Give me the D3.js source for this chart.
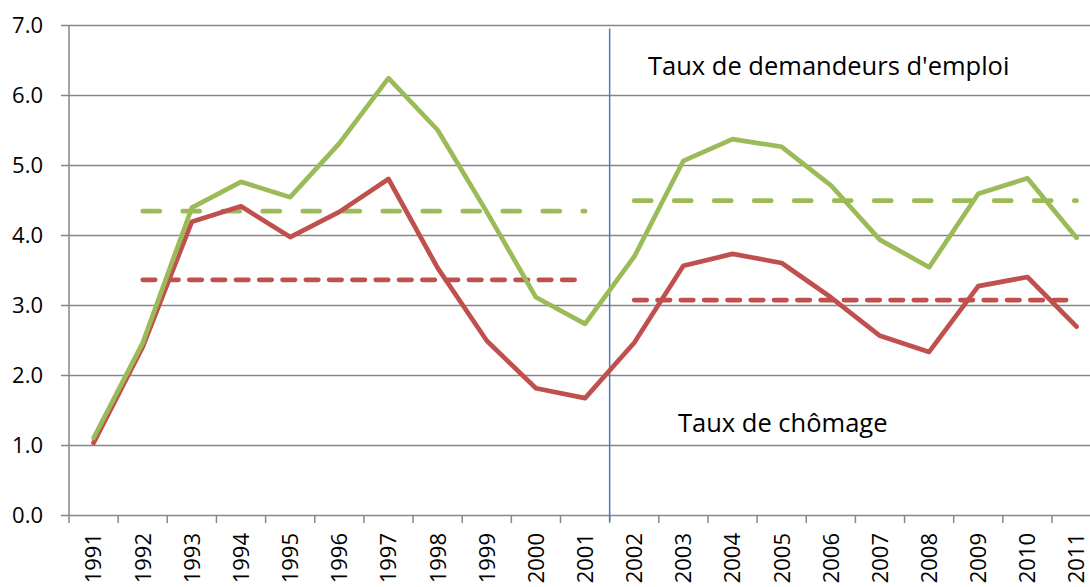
<!DOCTYPE html>
<html>
<head>
<meta charset="utf-8">
<script src="https://cdn.jsdelivr.net/npm/d3@7"></script>
<style>
  body { margin: 0; background: #fff; }
  svg { display: block; font-family: "Open Sans", sans-serif; }
</style>
</head>
<body>
<svg width="1090" height="587"></svg>
<script>
const years = ["1991","1992","1993","1994","1995","1996","1997","1998","1999","2000",
  "2001","2002","2003","2004","2005","2006","2007","2008","2009","2010","2011"];

// taux de demandeurs d'emploi (green)
const demandeurs = [1.10, 2.46, 4.39, 4.76, 4.54, 5.31, 6.24, 5.50, 4.33, 3.11,
  2.73, 3.69, 5.06, 5.37, 5.26, 4.71, 3.93, 3.54, 4.59, 4.81, 3.96];
// taux de chomage (red)
const chomage = [1.03, 2.40, 4.19, 4.41, 3.97, 4.33, 4.80, 3.53, 2.49, 1.81,
  1.67, 2.46, 3.56, 3.73, 3.60, 3.11, 2.56, 2.33, 3.27, 3.40, 2.69];

// period averages (dashed lines)
const periods = [["1992", "2001"], ["2002", "2011"]];
const demandeursAvg = [4.34, 4.49];
const chomageAvg = [3.36, 3.07];

const yTicks = [0, 1, 2, 3, 4, 5, 6, 7];
const splitYear = "2002";

const green = "#9bbb59";
const red = "#c0504d";

const svg = d3.select("svg");
const mLeft = 69, mTop = 25, mBottom = 515;
const band = 49.15;

const x = d3.scaleBand().domain(years).range([mLeft, mLeft + band * years.length]);
const y = d3.scaleLinear().domain([0, 7]).range([mBottom, mTop]);
const cx = d => x(d) + x.bandwidth() / 2;

// gridlines + y labels
svg.append("g")
  .attr("transform", `translate(${mLeft},0)`)
  .call(d3.axisLeft(y).tickValues(yTicks).tickSize(8).tickFormat(d3.format(".1f")))
  .call(g => g.select(".domain").remove())
  .call(g => g.selectAll(".tick line").clone()
      .attr("x1", 0).attr("x2", 1100))
  .call(g => g.selectAll(".tick line").attr("stroke", "#868686").attr("stroke-width", 1.5))
  .call(g => g.selectAll(".tick text")
      .attr("x", -26)
      .attr("fill", "#000")
      .attr("font-size", 22)
      .attr("font-family", "Open Sans"));

// y axis line
svg.append("line")
  .attr("x1", mLeft).attr("x2", mLeft)
  .attr("y1", mTop).attr("y2", mBottom)
  .attr("stroke", "#868686").attr("stroke-width", 1.5);

// x axis with ticks between categories
const xAxis = svg.append("g").attr("transform", `translate(0,${mBottom})`);
xAxis.selectAll("line.tk")
  .data(years.map(d => x(d)))
  .enter().append("line")
  .attr("x1", d => d).attr("x2", d => d)
  .attr("y1", 0).attr("y2", 8)
  .attr("stroke", "#868686").attr("stroke-width", 1.5);
xAxis.selectAll("text")
  .data(years)
  .enter().append("text")
  .attr("transform", d => `translate(${cx(d)},18) rotate(-90)`)
  .attr("text-anchor", "end")
  .attr("dy", "0.36em")
  .attr("font-size", 22)
  .text(d => d);

// vertical separator
svg.append("line")
  .attr("x1", x(splitYear)).attr("x2", x(splitYear))
  .attr("y1", y(6.95)).attr("y2", mBottom + 6)
  .attr("stroke", "#4a7ebb").attr("stroke-width", 1.5);

// average lines
const drawAvg = (vals, color, dash) => {
  svg.selectAll(null)
    .data(periods)
    .enter().append("line")
    .attr("x1", d => cx(d[0]))
    .attr("x2", d => cx(d[1]))
    .attr("y1", (d, i) => y(vals[i]))
    .attr("y2", (d, i) => y(vals[i]))
    .attr("stroke", color)
    .attr("stroke-width", 4.7)
    .attr("stroke-linecap", "round")
    .attr("stroke-dasharray", dash);
};
drawAvg(demandeursAvg, green, "17,23");
drawAvg(chomageAvg, red, "12.5,10.8");

// series lines
const line = d3.line().x((d, i) => cx(years[i])).y(d => y(d));
svg.append("path").datum(chomage)
  .attr("d", line).attr("fill", "none")
  .attr("stroke", red).attr("stroke-width", 4.7)
  .attr("stroke-linejoin", "round").attr("stroke-linecap", "round");
svg.append("path").datum(demandeurs)
  .attr("d", line).attr("fill", "none")
  .attr("stroke", green).attr("stroke-width", 4.7)
  .attr("stroke-linejoin", "round").attr("stroke-linecap", "round");

// annotations
svg.append("text").attr("x", 648).attr("y", 75)
  .attr("font-size", 25.5).text("Taux de demandeurs d'emploi");
svg.append("text").attr("x", 678).attr("y", 432)
  .attr("font-size", 25.5).text("Taux de chômage");
</script>
</body>
</html>
